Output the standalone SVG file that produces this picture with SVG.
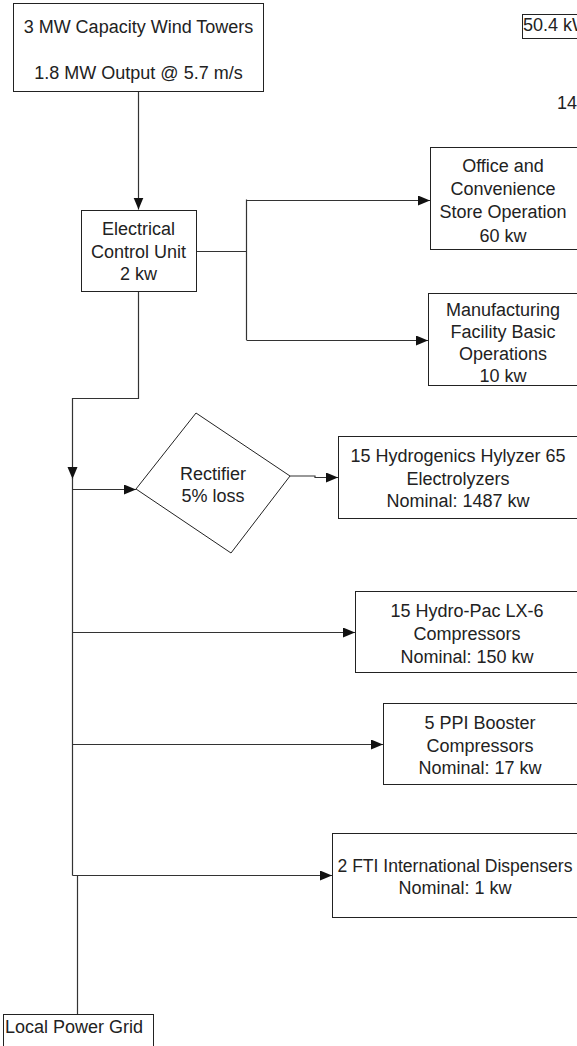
<svg xmlns="http://www.w3.org/2000/svg" width="577" height="1046" viewBox="0 0 577 1046">
<style>
  .box { fill: #fff; stroke: #222; stroke-width: 1; }
  .conn { fill: none; stroke: #333; stroke-width: 1.2; }
  text { font-family: "Liberation Sans", Arial, sans-serif; font-size: 18px; fill: #222; }
  .c { text-anchor: middle; }
</style>
<defs>
  <marker id="arr" markerUnits="userSpaceOnUse" markerWidth="13" markerHeight="11" refX="12" refY="5" orient="auto">
    <path d="M0,0 L12,5 L0,10 z" fill="#111"/>
  </marker>
</defs>
<rect width="577" height="1046" fill="#fff"/>

<g id="connectors">
  <path class="conn" d="M138.5,91 V209.5" marker-end="url(#arr)"/>
  <path class="conn" d="M196,251.5 H246.5 M246.5,199.5 V340"/>
  <path class="conn" d="M246.5,200.5 H430" marker-end="url(#arr)"/>
  <path class="conn" d="M246.5,340.5 H428" marker-end="url(#arr)"/>
  <path class="conn" d="M138.5,291 V398.5 H72.5 V479" marker-end="url(#arr)"/>
  <path class="conn" d="M72.5,478 V875.5"/>
  <path class="conn" d="M72.5,489.5 H136" marker-end="url(#arr)"/>
  <path class="conn" d="M290,476 H315 V477.5 H338" marker-end="url(#arr)"/>
  <path class="conn" d="M72.5,632.5 H355" marker-end="url(#arr)"/>
  <path class="conn" d="M72.5,744.5 H383" marker-end="url(#arr)"/>
  <path class="conn" d="M72.5,875.5 H332" marker-end="url(#arr)"/>
  <path class="conn" d="M77.5,875.5 V1014"/>
</g>

<g id="wind-towers">
  <rect class="box" x="13.5" y="3.5" width="250" height="88"/>
  <text class="c" x="138.5" y="32.5">3 MW Capacity Wind Towers</text>
  <text class="c" x="138.5" y="79">1.8 MW Output @ 5.7 m/s</text>
</g>

<g id="label-50kw">
  <rect class="box" x="522.5" y="14.5" width="80" height="24"/>
  <text x="523" y="31">50.4 kW</text>
</g>

<g id="label-14">
  <text x="557" y="109">14</text>
</g>

<g id="ecu">
  <rect class="box" x="81.5" y="210.5" width="115" height="81"/>
  <text class="c" x="138.5" y="235">Electrical</text>
  <text class="c" x="138.5" y="258">Control Unit</text>
  <text class="c" x="138.5" y="280">2 kw</text>
</g>

<g id="office">
  <rect class="box" x="430.5" y="147.5" width="160" height="102"/>
  <text class="c" x="503" y="171.5">Office and</text>
  <text class="c" x="503" y="195">Convenience</text>
  <text class="c" x="503" y="218">Store Operation</text>
  <text class="c" x="503" y="241.5">60 kw</text>
</g>

<g id="manufacturing">
  <rect class="box" x="428.5" y="293.5" width="160" height="92"/>
  <text class="c" x="503" y="316">Manufacturing</text>
  <text class="c" x="503" y="338">Facility Basic</text>
  <text class="c" x="503" y="360">Operations</text>
  <text class="c" x="503" y="382">10 kw</text>
</g>

<g id="rectifier">
  <polygon class="box" points="136,489 196,413 290,476 231,553"/>
  <text class="c" x="213" y="480">Rectifier</text>
  <text class="c" x="213" y="502">5% loss</text>
</g>

<g id="electrolyzers">
  <rect class="box" x="338.5" y="436.5" width="260" height="82"/>
  <text class="c" x="458" y="462">15 Hydrogenics Hylyzer 65</text>
  <text class="c" x="458" y="485">Electrolyzers</text>
  <text class="c" x="458" y="507">Nominal: 1487 kw</text>
</g>

<g id="hydropac">
  <rect class="box" x="355.5" y="591.5" width="240" height="81"/>
  <text class="c" x="467" y="616.5">15 Hydro-Pac LX-6</text>
  <text class="c" x="467" y="639.5">Compressors</text>
  <text class="c" x="467" y="662.5">Nominal: 150 kw</text>
</g>

<g id="ppi">
  <rect class="box" x="383.5" y="703.5" width="220" height="81"/>
  <text class="c" x="480" y="729">5 PPI Booster</text>
  <text class="c" x="480" y="752">Compressors</text>
  <text class="c" x="480" y="774">Nominal: 17 kw</text>
</g>

<g id="dispensers">
  <rect class="box" x="332.5" y="833.5" width="260" height="84"/>
  <text class="c" x="455" y="872" textLength="235" lengthAdjust="spacingAndGlyphs">2 FTI International Dispensers</text>
  <text class="c" x="455" y="894">Nominal: 1 kw</text>
</g>

<g id="power-grid">
  <rect class="box" x="3.5" y="1014.5" width="150" height="40"/>
  <text x="5" y="1033">Local Power Grid</text>
</g>
</svg>
